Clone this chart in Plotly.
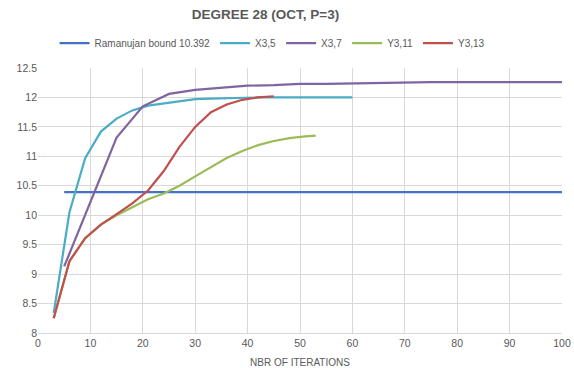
import plotly.graph_objects as go

# Data
ram_x = [5, 100]
ram_y = [10.392, 10.392]

x35_x = [3, 6, 9, 12, 15, 18, 21, 24, 27, 30, 33, 36, 39, 42, 45, 48, 51, 54, 57, 60]
x35_y = [8.34, 10.05, 10.97, 11.42, 11.64, 11.78, 11.86, 11.9, 11.94, 11.97, 11.98, 11.99,
         12.0, 12.0, 12.0, 12.0, 12.0, 12.0, 12.0, 12.0]

x37_x = [5, 10, 15, 20, 25, 30, 35, 40, 45, 50, 55, 60, 65, 70, 75, 80, 85, 90, 95, 100]
x37_y = [9.13, 10.22, 11.32, 11.85, 12.06, 12.13, 12.17, 12.2, 12.21, 12.23, 12.23, 12.24,
         12.24, 12.26, 12.26, 12.26, 12.26, 12.26, 12.26, 12.26]

y311_x = [3, 6, 9, 12, 15, 18, 21, 24, 27, 30, 33, 36, 39, 42, 45, 48, 51, 53]
y311_y = [8.25, 9.22, 9.61, 9.84, 10.0, 10.14, 10.27, 10.37, 10.5, 10.66, 10.81, 10.97,
          11.09, 11.19, 11.26, 11.31, 11.34, 11.35]

y313_x = [3, 6, 9, 12, 15, 18, 21, 24, 27, 30, 33, 36, 39, 42, 45]
y313_y = [8.25, 9.22, 9.61, 9.84, 10.02, 10.2, 10.42, 10.75, 11.16, 11.5, 11.75, 11.88,
          11.96, 12.0, 12.02]

x_ticks = [0, 10, 20, 30, 40, 50, 60, 70, 80, 90, 100]
y_ticks = [8, 8.5, 9, 9.5, 10, 10.5, 11, 11.5, 12, 12.5]

series = [
    ("Ramanujan bound 10.392", ram_x, ram_y, "#4472C4"),
    ("X3,5", x35_x, x35_y, "#4BACC6"),
    ("X3,7", x37_x, x37_y, "#8064A2"),
    ("Y3,11", y311_x, y311_y, "#9BBB59"),
    ("Y3,13", y313_x, y313_y, "#C0504D"),
]

fig = go.Figure()
for name, xs, ys, col in series:
    fig.add_trace(go.Scatter(x=xs, y=ys, mode="lines", name=name,
                             line=dict(color=col, width=2.2)))

font_fam = "Liberation Sans, Arial, sans-serif"
fig.update_layout(
    width=574, height=368,
    margin=dict(l=37.5, r=11.5, t=68.3, b=34.7, autoexpand=False),
    paper_bgcolor="white", plot_bgcolor="white",
    title=dict(text="<b>DEGREE 28 (OCT, P=3)</b>", xref="container", x=0.4626,
               xanchor="center", yref="container", y=0.962, yanchor="middle",
               font=dict(family=font_fam, size=13.5, color="#595959")),
    legend=dict(orientation="h", xref="container", x=0.474, xanchor="center",
                yref="container", y=0.883, yanchor="middle",
                font=dict(family=font_fam, size=10, color="#595959"),
                itemwidth=30, tracegroupgap=0, bgcolor="rgba(0,0,0,0)"),
    font=dict(family=font_fam, size=10.5, color="#595959"),
    showlegend=True,
)
fig.update_xaxes(range=[0, 100], tickvals=x_ticks, ticktext=[str(v) for v in x_ticks],
                 showgrid=True, gridcolor="#d9d9d9", gridwidth=1,
                 showline=True, linecolor="#d9d9d9", linewidth=1, automargin=False,
                 zeroline=False, ticks="", tickfont=dict(size=10.5, color="#595959"),
                 title=dict(text="NBR OF ITERATIONS", standoff=13,
                            font=dict(size=10, color="#595959")))
fig.update_yaxes(range=[8, 12.5], tickvals=y_ticks,
                 ticktext=[("%g" % v) for v in y_ticks], automargin=False,
                 showgrid=True, gridcolor="#d9d9d9", gridwidth=1,
                 showline=False, zeroline=False, ticks="",
                 tickfont=dict(size=10.5, color="#595959"))

fig.write_html("out.html", config={"displayModeBar": False},
               post_script="document.body.style.margin='0';"
                           "document.body.style.overflow='hidden';")
